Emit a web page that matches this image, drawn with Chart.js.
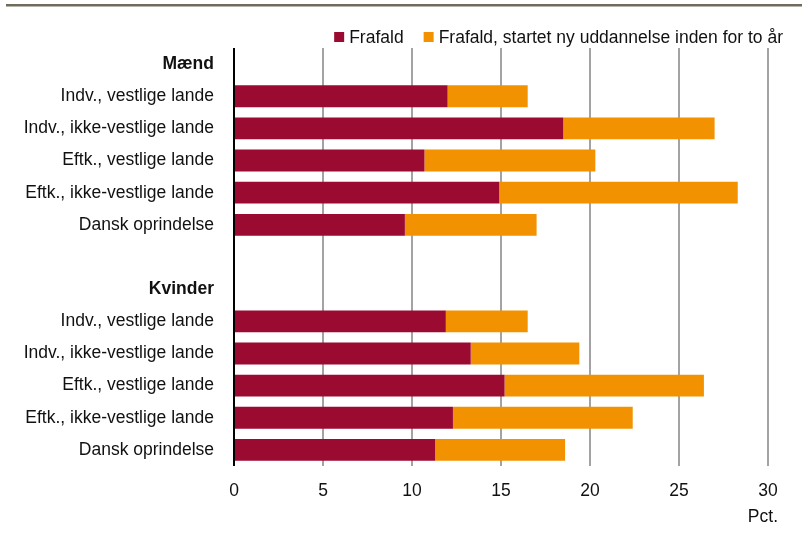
<!DOCTYPE html>
<html>
<head>
<meta charset="utf-8">
<script src="https://cdn.jsdelivr.net/npm/chart.js@4/dist/chart.umd.min.js"></script>
<style>
  html, body { margin: 0; padding: 0; background: #fff; }
  #wrap { width: 808px; height: 534px; position: relative; }
</style>
</head>
<body>
<div id="wrap"><canvas id="chart"></canvas></div>
<script>
// Rows of the chart, top to bottom ('' is the spacer between the groups)
const categories = [
  'Mænd',
  'Indv., vestlige lande',
  'Indv., ikke-vestlige lande',
  'Eftk., vestlige lande',
  'Eftk., ikke-vestlige lande',
  'Dansk oprindelse',
  '',
  'Kvinder',
  'Indv., vestlige lande',
  'Indv., ikke-vestlige lande',
  'Eftk., vestlige lande',
  'Eftk., ikke-vestlige lande',
  'Dansk oprindelse'
];
const headerRows = ['Mænd', 'Kvinder'];

// Pct. dropped out
const frafald = [null, 12.0, 18.5, 10.7, 14.9, 9.6, null, null, 11.9, 13.3, 15.2, 12.3, 11.3];
// Pct. dropped out but started a new education within two years
const frafaldNyUdd = [null, 4.5, 8.5, 9.6, 13.4, 7.4, null, null, 4.6, 6.1, 11.2, 10.1, 7.3];

const xTicks = [0, 5, 10, 15, 20, 25, 30];
const seriesNames = ['Frafald', 'Frafald, startet ny uddannelse inden for to år'];
const unitLabel = 'Pct.';

const FONT = "'Liberation Sans', Arial, sans-serif";
const RED = '#9b0a30';
const ORANGE = '#f29200';

// legend row, top rule and unit label
const decorations = {
  id: 'decorations',
  afterDraw(chart) {
    const ctx = chart.ctx;
    ctx.save();
    ctx.fillStyle = '#6f6c5d';
    ctx.fillRect(6, 4, 796, 2.5);

    ctx.font = '17.5px ' + FONT;
    ctx.textBaseline = 'middle';
    ctx.textAlign = 'left';
    const box = 10, gapText = 5, gapItem = 20, yMid = 37;
    const items = chart.data.datasets.map(ds => ({
      text: ds.label, color: ds.backgroundColor, w: ctx.measureText(ds.label).width
    }));
    let total = items.reduce((s, it) => s + box + gapText + it.w, 0) + gapItem * (items.length - 1);
    let x = 783 - total;
    items.forEach(it => {
      ctx.fillStyle = it.color;
      ctx.fillRect(x, yMid - box / 2, box, box);
      x += box + gapText;
      ctx.fillStyle = '#111';
      ctx.fillText(it.text, x, yMid + 1);
      x += it.w + gapItem;
    });

    const xs = chart.scales.x;
    ctx.textAlign = 'right';
    ctx.fillText(unitLabel, xs.getPixelForValue(xTicks[xTicks.length - 1]) + 10, 517);
    ctx.restore();
  }
};

new Chart(document.getElementById('chart'), {
  type: 'bar',
  data: {
    labels: categories,
    datasets: [
      { label: seriesNames[0], data: frafald, backgroundColor: RED },
      { label: seriesNames[1], data: frafaldNyUdd, backgroundColor: ORANGE }
    ]
  },
  options: {
    indexAxis: 'y',
    responsive: true,
    maintainAspectRatio: false,
    animation: false,
    barPercentage: 0.68,
    categoryPercentage: 1,
    layout: { padding: { top: 48, right: 40, bottom: 17, left: 0 } },
    plugins: {
      legend: { display: false },
      tooltip: { enabled: false }
    },
    scales: {
      x: {
        stacked: true,
        min: xTicks[0],
        max: xTicks[xTicks.length - 1],
        afterBuildTicks(scale) { scale.ticks = xTicks.map(v => ({ value: v })); },
        border: { display: false },
        grid: {
          drawTicks: false,
          color: ctx => ctx.tick && ctx.tick.value === 0 ? '#000' : '#a3a3a3',
          lineWidth: 2
        },
        ticks: {
          padding: 15,
          color: '#111',
          font: { family: FONT, size: 17.5 }
        }
      },
      y: {
        stacked: true,
        afterFit(scale) { scale.width = 234; },
        border: { display: false },
        grid: { display: false },
        ticks: {
          padding: 12,
          color: '#111',
          autoSkip: false,
          font: ctx => ({
            family: FONT,
            size: 17.5,
            weight: headerRows.includes(categories[ctx.index]) ? 'bold' : 'normal'
          })
        }
      }
    }
  },
  plugins: [decorations]
});
</script>
</body>
</html>
